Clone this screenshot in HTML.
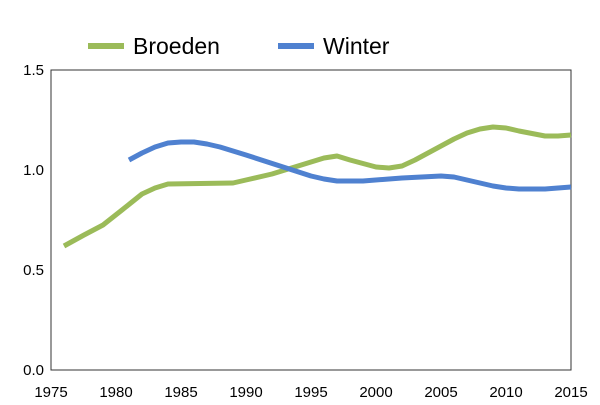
<!DOCTYPE html>
<html><head><meta charset="utf-8"><style>body{margin:0;background:#fff}</style></head><body>
<svg width="600" height="400" xmlns="http://www.w3.org/2000/svg" font-family="Liberation Sans, sans-serif">
<rect x="0" y="0" width="600" height="400" fill="#fff"/>
<rect x="51" y="70" width="520" height="300" fill="none" stroke="#333" stroke-width="1"/>
<g font-size="15" fill="#000" text-anchor="end">
<text x="44" y="75">1.5</text><text x="44" y="175">1.0</text><text x="44" y="275">0.5</text><text x="44" y="375">0.0</text>
</g>
<g font-size="15" fill="#000" text-anchor="middle">
<text x="51" y="397">1975</text><text x="116" y="397">1980</text><text x="181" y="397">1985</text><text x="246" y="397">1990</text><text x="311" y="397">1995</text><text x="376" y="397">2000</text><text x="441" y="397">2005</text><text x="506" y="397">2010</text><text x="571" y="397">2015</text>
</g>
<polyline fill="none" stroke="#9bbb59" stroke-width="5" stroke-linejoin="round" points="64,246 84,235 103,225 122,210 142,194 155,188 168,184 233,183 246,180 272,174 285,170 311,162 324,158 337,156 350,160 376,167 389,168 402,166 415,160 441,146 454,139 467,133 480,129 493,127 506,128 519,131 545,136 558,136 571,135"/>
<polyline fill="none" stroke="#4f81d0" stroke-width="5" stroke-linejoin="round" points="129,160 142,153 155,147 168,143 181,142 194,142 207,144 220,147 233,151 246,155 311,176 324,179 337,181 363,181 389,179 402,178 441,176 454,177 467,180 493,186 506,188 519,189 545,189 571,187"/>
<line x1="88" y1="46" x2="124" y2="46" stroke="#9bbb59" stroke-width="6"/>
<text x="133" y="54" font-size="23">Broeden</text>
<line x1="278" y1="46" x2="314" y2="46" stroke="#4f81d0" stroke-width="6"/>
<text x="323" y="54" font-size="23">Winter</text>
</svg>
</body></html>
